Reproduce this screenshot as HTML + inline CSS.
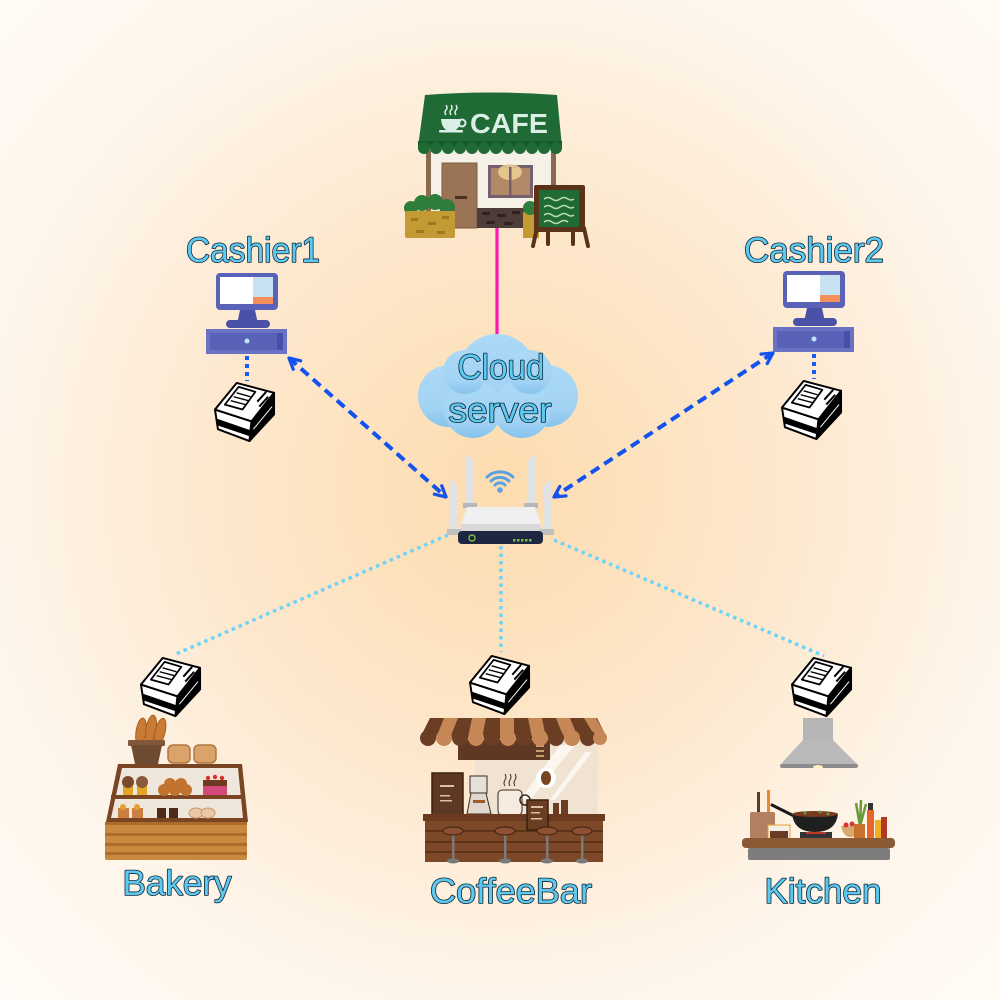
<!DOCTYPE html>
<html><head><meta charset="utf-8"><style>
html,body{margin:0;padding:0;background:#fef8f0;}
svg{display:block;}
.lbl{font-family:"Liberation Sans",sans-serif;font-size:35px;fill:#5cc9f2;stroke:#13232e;stroke-width:1.6px;paint-order:stroke;stroke-linejoin:round;text-anchor:middle;}
</style></head><body>
<svg width="1000" height="1000" viewBox="0 0 1000 1000" xmlns="http://www.w3.org/2000/svg">
<defs>
<radialGradient id="bg" cx="500" cy="490" r="720" gradientUnits="userSpaceOnUse">
<stop offset="0" stop-color="#fddcaf"/>
<stop offset="0.4" stop-color="#fde8ce"/>
<stop offset="0.7" stop-color="#fef5ea"/>
<stop offset="1" stop-color="#fffbf6"/>
</radialGradient>
<linearGradient id="cl" x1="0" y1="0" x2="0" y2="1">
<stop offset="0" stop-color="#abd9f6"/><stop offset="0.7" stop-color="#a3d3f4"/><stop offset="1" stop-color="#85c3ec"/>
</linearGradient>
<marker id="ah" viewBox="0 0 12 12" refX="10.5" refY="6" markerWidth="15" markerHeight="15" markerUnits="userSpaceOnUse" orient="auto-start-reverse">
<path d="M2,1.5 L10.5,6 L2,10.5" fill="none" stroke="#1452ee" stroke-width="2.6" stroke-linecap="round" stroke-linejoin="round"/>
</marker>
<symbol id="pr" viewBox="0 0 64 64">
<polygon points="38,42 61,13 61,35 36,62" fill="#000" stroke="#000" stroke-width="2" stroke-linejoin="round"/>
<polygon points="1,30 38,42 36,62 4,50" fill="#fff" stroke="#000" stroke-width="2" stroke-linejoin="round"/>
<polygon points="2,39 37,51 36,57 3,46" fill="#000"/>
<polygon points="1,30 23,3 61,13 38,42" fill="#fff" stroke="#000" stroke-width="2" stroke-linejoin="round"/>
<polygon points="11,25 25,7 42,12 29,30" fill="#fff" stroke="#000" stroke-width="1.8" stroke-linejoin="round"/>
<path d="M17,21 L32,25 M20,17 L35,21 M23,13 L37,17" stroke="#000" stroke-width="1.4"/>
<path d="M44,22 L53,12 M46,27 L55,17 M48,31 L57,21" stroke="#000" stroke-width="2"/>
<path d="M40,50 L59,27" stroke="#fff" stroke-width="1"/>
</symbol>
<g id="pos">
<rect x="216" y="273" width="62" height="37" rx="4" fill="#5a62b8"/>
<rect x="220" y="277" width="53" height="27" fill="#fff"/>
<rect x="253" y="277" width="20" height="27" fill="#c7e3f1"/>
<rect x="253" y="297" width="20" height="7" fill="#f58f5a"/>
<polygon points="240,310 255,310 258,324 237,324" fill="#4a52a8"/>
<rect x="226" y="320" width="44" height="8" rx="4" fill="#4a52a8"/>
<rect x="206" y="329" width="81" height="25" fill="#6a73c3"/>
<rect x="210" y="333" width="73" height="17" fill="#5a62b8"/>
<rect x="277" y="333" width="6" height="17" fill="#4650aa"/>
<circle cx="247" cy="341" r="2.5" fill="#bfe3f7"/>
<line x1="247" y1="356" x2="247" y2="381" stroke="#1a5cf0" stroke-width="4" stroke-dasharray="4 4"/>
<use href="#pr" x="214" y="380" width="63" height="63"/>
</g>
</defs>
<rect width="1000" height="1000" fill="url(#bg)"/>

<!-- connectors -->
<line x1="497" y1="228" x2="497" y2="336" stroke="#ff17ad" stroke-width="3.2"/>
<line x1="289" y1="358" x2="446" y2="497" stroke="#1452ee" stroke-width="4" stroke-dasharray="10 6" marker-start="url(#ah)" marker-end="url(#ah)"/>
<line x1="773" y1="353" x2="554" y2="497" stroke="#1452ee" stroke-width="4" stroke-dasharray="10 6" marker-start="url(#ah)" marker-end="url(#ah)"/>
<g stroke="#6dd3f7" stroke-width="3.5" stroke-dasharray="3.5 4" fill="none">
<line x1="448" y1="535" x2="176" y2="654"/>
<line x1="501" y1="546" x2="501" y2="652"/>
<line x1="554" y1="540" x2="824" y2="656"/>
</g>

<!-- Cafe -->
<g>
<rect x="428" y="148" width="126" height="80" fill="#f6f1e6"/>
<rect x="426" y="150" width="5" height="78" fill="#8a6a4f"/>
<rect x="551" y="150" width="5" height="78" fill="#8a6a4f"/>
<path d="M425,95 Q491,90 557,95 L562,147 L418,147 Z" fill="#1f6a35"/>
<rect x="418" y="141" width="144" height="7" fill="#175a2c"/>
<g fill="#1f6a35">
<circle cx="424" cy="148" r="6"/><circle cx="436" cy="148" r="6"/><circle cx="448" cy="148" r="6"/><circle cx="460" cy="148" r="6"/><circle cx="472" cy="148" r="6"/><circle cx="484" cy="148" r="6"/><circle cx="496" cy="148" r="6"/><circle cx="508" cy="148" r="6"/><circle cx="520" cy="148" r="6"/><circle cx="532" cy="148" r="6"/><circle cx="544" cy="148" r="6"/><circle cx="556" cy="148" r="6"/>
</g>
<text x="509" y="133" font-family="Liberation Sans,sans-serif" font-weight="bold" font-size="28" fill="#dcefe6" text-anchor="middle" textLength="78" lengthAdjust="spacingAndGlyphs">CAFE</text>
<path d="M441,119 L461,119 Q460,131 451,131 Q442,131 441,119 Z" fill="#dcefe6"/>
<circle cx="462" cy="123" r="3.5" fill="none" stroke="#dcefe6" stroke-width="2"/>
<rect x="439" y="130" width="24" height="2.5" rx="1" fill="#dcefe6"/>
<path d="M446,115 q-2,-3 0,-5 q2,-2 0,-5 M451,115 q-2,-3 0,-5 q2,-2 0,-5 M456,115 q-2,-3 0,-5 q2,-2 0,-5" stroke="#dcefe6" stroke-width="1.5" fill="none"/>
<rect x="442" y="163" width="35" height="65" fill="#9b7456" stroke="#7a5a44" stroke-width="1"/>
<rect x="455" y="196" width="12" height="3" fill="#4a3020"/>
<rect x="488" y="165" width="45" height="33" fill="#76606e"/>
<rect x="491" y="168" width="39" height="27" fill="#b28866"/>
<ellipse cx="510" cy="172" rx="12" ry="8" fill="#f3d59a" opacity="0.8"/>
<rect x="509" y="167" width="2.5" height="29" fill="#76606e"/>
<rect x="477" y="208" width="56" height="20" fill="#4d3c38"/>
<g fill="#2e2220"><rect x="482" y="212" width="8" height="3" rx="1"/><rect x="497" y="214" width="9" height="3" rx="1"/><rect x="512" y="211" width="8" height="3" rx="1"/><rect x="486" y="221" width="9" height="3" rx="1"/><rect x="504" y="222" width="9" height="3" rx="1"/></g>
<rect x="523" y="212" width="16" height="26" fill="#c49a35"/>
<circle cx="530" cy="208" r="7" fill="#2f7d3b"/>
<g fill="#2f7d3b"><circle cx="411" cy="208" r="7"/><circle cx="422" cy="203" r="8"/><circle cx="435" cy="202" r="8"/><circle cx="447" cy="207" r="8"/></g>
<rect x="405" y="211" width="50" height="27" rx="2" fill="#c49a35"/>
<g fill="#9d7a22"><rect x="411" y="218" width="7" height="3"/><rect x="428" y="222" width="8" height="3"/><rect x="442" y="216" width="7" height="3"/><rect x="416" y="230" width="8" height="3"/><rect x="437" y="231" width="8" height="3"/></g>
<g stroke="#5a3218" stroke-width="4" stroke-linecap="round">
<line x1="537" y1="228" x2="533" y2="246"/><line x1="584" y1="228" x2="588" y2="246"/><line x1="548" y1="230" x2="548" y2="244"/><line x1="573" y1="230" x2="573" y2="244"/>
</g>
<rect x="534" y="185" width="51" height="47" rx="2" fill="#5a3218"/>
<rect x="539" y="190" width="40" height="37" fill="#1f6a35"/>
<g stroke="#b9d9b1" stroke-width="1.5" fill="none">
<path d="M544,199 q4,-3 8,0 q4,3 8,0 q4,-3 8,0 q3,2 6,0"/>
<path d="M544,207 q4,-3 8,0 q4,3 8,0 q4,-3 8,0 q3,2 6,0"/>
<path d="M544,215 q4,-3 8,0 q4,3 8,0 q4,-3 8,0 q3,2 6,0"/>
<path d="M544,222 q4,-3 8,0 q4,3 8,0 q4,-3 8,0"/>
</g>
</g>

<!-- Cloud -->
<g fill="url(#cl)">
<circle cx="497" cy="373" r="39"/>
<circle cx="449" cy="396" r="31"/>
<circle cx="547" cy="396" r="31"/>
<circle cx="473" cy="409" r="29"/>
<circle cx="522" cy="409" r="29"/>
<circle cx="465" cy="372" r="22"/>
<circle cx="530" cy="372" r="22"/>
</g>
<text class="lbl" x="501" y="379" textLength="87" lengthAdjust="spacingAndGlyphs">Cloud</text>
<text class="lbl" x="500" y="422" textLength="103" lengthAdjust="spacingAndGlyphs">server</text>

<!-- Router -->
<g>
<polygon points="450,532 450,479 457,485 457,532" fill="#e2e2e2"/>
<polygon points="465,505 466,454 473,460 473,505" fill="#e2e2e2"/>
<polygon points="528,505 528,460 535,454 536,505" fill="#e2e2e2"/>
<polygon points="544,532 544,485 551,479 551,532" fill="#e2e2e2"/>
<rect x="463" y="503" width="14" height="5" fill="#b8b8b8"/>
<rect x="524" y="503" width="14" height="5" fill="#b8b8b8"/>
<path d="M467,507 L535,507 L543,531 L459,531 Z" fill="#f0f0f0"/>
<path d="M462,524 L540,524 L543,531 L459,531 Z" fill="#d8d8d8"/>
<rect x="447" y="529" width="14" height="6" fill="#c0c0c0"/>
<rect x="540" y="529" width="14" height="6" fill="#c0c0c0"/>
<rect x="458" y="531" width="85" height="13" rx="4" fill="#1e2642"/>
<circle cx="472" cy="538" r="3" fill="none" stroke="#7bc043" stroke-width="1.4"/>
<g fill="#7bc043"><rect x="513" y="539" width="2.5" height="2.5"/><rect x="517" y="539" width="2.5" height="2.5"/><rect x="521" y="539" width="2.5" height="2.5"/><rect x="525" y="539" width="2.5" height="2.5"/><rect x="529" y="539" width="2.5" height="2.5"/></g>
<g stroke="#5aa0e2" stroke-width="3" fill="none" stroke-linecap="round">
<path d="M495,485 A7,7 0 0 1 505,485"/>
<path d="M491,481 A13,13 0 0 1 509,481"/>
<path d="M487,477 A19,19 0 0 1 513,477"/>
</g>
<circle cx="500" cy="490" r="2.8" fill="#5aa0e2"/>
</g>

<!-- Cashiers -->
<use href="#pos"/>
<use href="#pos" transform="translate(567,-2)"/>
<text class="lbl" x="253" y="262" textLength="134" lengthAdjust="spacingAndGlyphs">Cashier1</text>
<text class="lbl" x="814" y="262" textLength="140" lengthAdjust="spacingAndGlyphs">Cashier2</text>

<!-- bottom printers -->
<use href="#pr" x="140" y="655" width="63" height="63"/>
<use href="#pr" x="469" y="653" width="63" height="63"/>
<use href="#pr" x="791" y="655" width="63" height="63"/>

<!-- Bakery -->
<g>
<g fill="#c97b35" stroke="#a65e22" stroke-width="1">
<ellipse cx="141" cy="732" rx="5" ry="14" transform="rotate(8 141 732)"/>
<ellipse cx="151" cy="729" rx="5" ry="14" transform="rotate(10 151 729)"/>
<ellipse cx="160" cy="732" rx="5" ry="14" transform="rotate(14 160 732)"/>
</g>
<rect x="128" y="740" width="37" height="6" rx="1" fill="#80573a"/>
<polygon points="131,745 162,745 158,764 135,764" fill="#6e4a30"/>
<rect x="168" y="745" width="22" height="18" rx="5" fill="#d9a36a" stroke="#b07840" stroke-width="1.5"/>
<rect x="194" y="745" width="22" height="18" rx="5" fill="#d9a36a" stroke="#b07840" stroke-width="1.5"/>
<polygon points="118,764 242,764 248,822 106,822" fill="#7a4522"/>
<polygon points="122,768 238,768 243,818 111,818" fill="#efe6dc"/>
<rect x="111" y="795" width="132" height="4" fill="#7a4522"/>
<g>
<rect x="123" y="783" width="10" height="12" fill="#e4a526"/><circle cx="128" cy="782" r="6" fill="#7b4a2a"/>
<rect x="137" y="783" width="10" height="12" fill="#e4a526"/><circle cx="142" cy="782" r="6" fill="#8b5a3a"/>
<g fill="#c27330"><circle cx="164" cy="790" r="6"/><circle cx="175" cy="790" r="6"/><circle cx="186" cy="790" r="6"/><circle cx="170" cy="784" r="6"/><circle cx="181" cy="784" r="6"/></g>
<rect x="203" y="786" width="24" height="9" fill="#d44a7c"/><rect x="203" y="780" width="24" height="6" fill="#6e3a20"/>
<g fill="#d9302a"><circle cx="208" cy="778" r="2.2"/><circle cx="215" cy="777" r="2.2"/><circle cx="222" cy="778" r="2.2"/></g>
<g fill="#c98040"><rect x="118" y="808" width="11" height="10"/><rect x="132" y="808" width="11" height="10"/></g>
<g fill="#e8a030"><circle cx="123" cy="807" r="3"/><circle cx="137" cy="807" r="3"/></g>
<g fill="#4e2a18"><rect x="157" y="808" width="9" height="10"/><rect x="169" y="808" width="9" height="10"/></g>
<g fill="#ecc9a6" stroke="#c99a70" stroke-width="1"><ellipse cx="196" cy="813" rx="7" ry="5"/><ellipse cx="208" cy="813" rx="7" ry="5"/></g>
</g>
<rect x="105" y="822" width="142" height="38" rx="2" fill="#c98a40"/>
<g fill="#ad6c2c"><rect x="105" y="822" width="142" height="3"/><rect x="105" y="833" width="142" height="3"/><rect x="105" y="843" width="142" height="3"/><rect x="105" y="852" width="142" height="3"/></g>
</g>
<text class="lbl" x="177" y="895" textLength="109" lengthAdjust="spacingAndGlyphs">Bakery</text>

<!-- CoffeeBar -->
<g>
<rect x="475" y="740" width="123" height="76" fill="#f0e3d2"/>
<g fill="#fbf6ef"><polygon points="560,745 575,745 530,800 520,800"/><polygon points="585,752 592,752 555,800 550,800"/></g>
<rect x="458" y="740" width="92" height="20" fill="#5e3822"/>
<g fill="#c8a070"><rect x="536" y="745" width="8" height="2"/><rect x="536" y="750" width="8" height="2"/><rect x="536" y="755" width="8" height="2"/></g>
<polygon points="430,718 597,718 607,738 420,738" fill="#6b3d22"/>
<g fill="#c48755">
<polygon points="444,718 458,718 450,738 436,738"/>
<polygon points="472,718 486,718 482,738 468,738"/>
<polygon points="500,718 514,718 514,738 500,738"/>
<polygon points="528,718 542,718 546,738 532,738"/>
<polygon points="556,718 570,718 578,738 564,738"/>
<polygon points="584,718 596,718 607,738 596,738"/>
</g>
<g fill="#6b3d22"><circle cx="428" cy="738" r="8"/><circle cx="460" cy="738" r="8"/><circle cx="492" cy="738" r="8"/><circle cx="524" cy="738" r="8"/><circle cx="556" cy="738" r="8"/><circle cx="588" cy="738" r="8"/></g>
<g fill="#c48755"><circle cx="444" cy="738" r="8"/><circle cx="476" cy="738" r="8"/><circle cx="508" cy="738" r="8"/><circle cx="540" cy="738" r="8"/><circle cx="572" cy="738" r="8"/><circle cx="600" cy="738" r="7"/></g>
<rect x="432" y="773" width="31" height="42" fill="#5e3822" stroke="#3a2010" stroke-width="1.5"/>
<g fill="#d8c0a0"><rect x="440" y="785" width="14" height="2"/><rect x="440" y="795" width="10" height="1.5"/><rect x="440" y="800" width="12" height="1.5"/></g>
<rect x="470" y="776" width="17" height="17" fill="#e6e0da" stroke="#3a2a20" stroke-width="1"/>
<polygon points="471,793 486,793 491,814 467,814" fill="#e0d8cf" stroke="#3a2a20" stroke-width="1"/>
<rect x="473" y="800" width="12" height="3" fill="#a05a30"/>
<rect x="498" y="790" width="24" height="25" rx="4" fill="#f5ebe0" stroke="#3a2a20" stroke-width="1"/>
<circle cx="525" cy="800" r="5" fill="none" stroke="#3a2a20" stroke-width="1.5"/>
<path d="M505,786 q-2,-3 0,-6 q2,-3 0,-6 M510,786 q-2,-3 0,-6 q2,-3 0,-6 M515,786 q-2,-3 0,-6 q2,-3 0,-6" stroke="#3a2a20" stroke-width="1" fill="none"/>
<circle cx="546" cy="778" r="10" fill="#fff"/>
<ellipse cx="546" cy="778" rx="5" ry="7" fill="#7a4420"/>
<rect x="553" y="803" width="6" height="12" fill="#6b3d22"/><rect x="561" y="800" width="7" height="15" fill="#6b3d22"/>
<rect x="423" y="814" width="182" height="7" fill="#6b3a1f"/>
<rect x="425" y="821" width="178" height="41" fill="#7d4828"/>
<g fill="#5e3318"><rect x="425" y="830" width="178" height="2"/><rect x="425" y="841" width="178" height="2"/><rect x="425" y="851" width="178" height="2"/></g>
<rect x="527" y="800" width="21" height="30" fill="#6b3d22" stroke="#3a2010" stroke-width="1.5"/>
<g fill="#d8c0a0"><rect x="531" y="806" width="12" height="2"/><rect x="531" y="812" width="9" height="1.5"/><rect x="531" y="818" width="11" height="1.5"/></g>
<g fill="#7a7a7a">
<rect x="452" y="833" width="2.5" height="27"/><rect x="504" y="833" width="2.5" height="27"/><rect x="546" y="833" width="2.5" height="27"/><rect x="581" y="833" width="2.5" height="27"/>
<ellipse cx="453" cy="861" rx="6" ry="2.5"/><ellipse cx="505" cy="861" rx="6" ry="2.5"/><ellipse cx="547" cy="861" rx="6" ry="2.5"/><ellipse cx="582" cy="861" rx="6" ry="2.5"/>
</g>
<g fill="#8e5232" stroke="#3a2010" stroke-width="1"><ellipse cx="453" cy="831" rx="10" ry="4"/><ellipse cx="505" cy="831" rx="10" ry="4"/><ellipse cx="547" cy="831" rx="10" ry="4"/><ellipse cx="582" cy="831" rx="10" ry="4"/></g>
</g>
<text class="lbl" x="511" y="903" textLength="162" lengthAdjust="spacingAndGlyphs">CoffeeBar</text>

<!-- Kitchen -->
<g>
<rect x="803" y="718" width="30" height="23" fill="#b5b5b5"/>
<polygon points="803,740 833,740 858,765 780,765" fill="#b9b9b9"/>
<rect x="780" y="764" width="78" height="4" rx="2" fill="#8c8c8c"/>
<ellipse cx="818" cy="767" rx="5" ry="2" fill="#fbeec0"/>
<rect x="757" y="792" width="3" height="22" fill="#5a3a28"/><rect x="767" y="790" width="3" height="24" fill="#e88a2a"/>
<rect x="750" y="812" width="25" height="27" rx="2" fill="#b08060"/>
<rect x="768" y="825" width="22" height="14" fill="#f2eee8" stroke="#e8a030" stroke-width="1"/>
<rect x="770" y="831" width="18" height="7" fill="#6b3a22"/>
<path d="M772,805 L792,815" stroke="#1a1a1a" stroke-width="3" stroke-linecap="round"/>
<path d="M792,814 L838,814 Q836,832 815,832 Q794,832 792,814 Z" fill="#1f1f1f"/>
<ellipse cx="815" cy="814" rx="23" ry="3" fill="#7a3a20"/>
<g fill="#5aa040"><circle cx="805" cy="813" r="1.5"/><circle cx="820" cy="812" r="1.5"/><circle cx="828" cy="814" r="1.5"/></g>
<rect x="800" y="832" width="32" height="6" fill="#333"/>
<rect x="806" y="832" width="20" height="2" fill="#c0392b"/>
<path d="M841,826 L862,826 Q860,837 851,837 Q843,837 841,826 Z" fill="#d9a870"/>
<g fill="#d33"><circle cx="846" cy="825" r="2.5"/><circle cx="852" cy="824" r="2.5"/></g>
<path d="M860,826 L856,803 M860,826 L861,800 M860,826 L866,804" stroke="#6a9a3a" stroke-width="2.5"/>
<rect x="854" y="824" width="11" height="14" fill="#c8702e"/>
<rect x="867" y="810" width="7" height="28" fill="#e8642a"/><rect x="868" y="803" width="5" height="7" fill="#333"/>
<rect x="875" y="820" width="6" height="18" fill="#f0b020"/>
<rect x="881" y="817" width="6" height="21" fill="#b03a20"/>
<rect x="742" y="838" width="153" height="10" rx="4" fill="#8a5a34"/>
<rect x="748" y="848" width="142" height="12" rx="2" fill="#7d7d7d"/>
</g>
<text class="lbl" x="823" y="903" textLength="117" lengthAdjust="spacingAndGlyphs">Kitchen</text>
</svg>
</body></html>
